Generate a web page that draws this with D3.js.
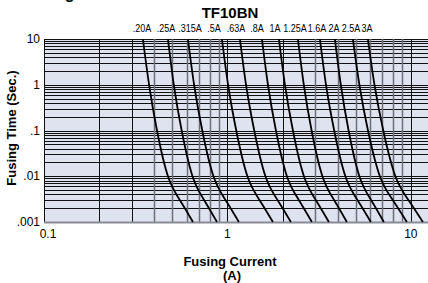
<!DOCTYPE html>
<html>
<head>
<meta charset="utf-8">
<script src="https://cdn.jsdelivr.net/npm/d3@7"></script>
<style>
  html, body { margin: 0; padding: 0; background: #fff; }
  svg { display: block; font-family: "Liberation Sans", Arial, sans-serif; }
</style>
</head>
<body>
<svg id="chart" width="428" height="283"></svg>
<script>
// fuse ratings shown along the top
var ratings = ['.20A', '.25A', '.315A', '.5A', '.63A', '.8A', '1A', '1.25A', '1.6A', '2A', '2.5A', '3A'];

// fusing time (sec) where each curve was read
var times = [10, 1, 0.1, 0.01, 0.003, 0.001];

// fusing current (A) at those times, one row per rating
var currents = [
  [0.346, 0.374, 0.413, 0.474, 0.551, 0.649],
  [0.474, 0.510, 0.563, 0.645, 0.747, 0.877],
  [0.609, 0.658, 0.729, 0.839, 0.978, 1.155],
  [0.933, 1.008, 1.117, 1.285, 1.498, 1.770],
  [1.170, 1.263, 1.400, 1.611, 1.878, 2.218],
  [1.542, 1.663, 1.838, 2.110, 2.453, 2.887],
  [1.909, 2.058, 2.275, 2.612, 3.036, 3.573],
  [2.422, 2.608, 2.876, 3.294, 3.819, 4.479],
  [3.193, 3.446, 3.819, 4.395, 5.123, 6.053],
  [3.853, 4.150, 4.576, 5.240, 6.076, 7.127],
  [4.830, 5.240, 5.837, 6.778, 7.978, 9.511],
  [5.830, 6.333, 7.073, 8.233, 9.716, 11.63]
];

// x position of each rating label (A)
var labelAt = [0.342, 0.462, 0.625, 0.844, 1.112, 1.448, 1.815, 2.333, 3.075, 3.806, 4.710, 5.757];

var yTicks = [10, 1, 0.1, 0.01, 0.001];
var yTickText = ['10', '1', '.1', '.01', '.001'];
var xTicks = [0.1, 1, 10];
var xTickText = ['0.1', '1', '10'];

var svg = d3.select('#chart');
var plotL = 44, plotR = 428, plotT = 39, plotB = 222;

var x = d3.scaleLog().domain([0.1, 12.4]).range([plotL, plotR]);
var y = d3.scaleLog().domain([0.001, 10]).range([plotB, plotT]);

// plot background
svg.append('rect')
  .attr('x', plotL).attr('y', plotT)
  .attr('width', plotR - plotL).attr('height', plotB - plotT)
  .attr('fill', '#dfe2ef');

// log grid values
var xGrid = [], yGrid = [];
[0.1, 1, 10].forEach(function(d) {
  for (var i = 1; i <= 9; i++) {
    if (d * i <= 12.4) xGrid.push({v: d * i, m: i});
  }
});
[0.001, 0.01, 0.1, 1].forEach(function(d) {
  for (var i = 1; i <= 10; i++) yGrid.push({v: d * i, m: i});
});

// dark vertical lines: 0.1, 0.2, 0.3, 1, 2 - the rest are grey
function darkV(d) {
  return d.m <= 2 || (d.v < 1 && d.m === 3);
}

var grid = svg.append('g');
grid.selectAll('line.h').data(yGrid).enter().append('line')
  .attr('class', 'h')
  .attr('x1', plotL).attr('x2', plotR)
  .attr('y1', function(d) { return Math.round(y(d.v)) + 0.5; })
  .attr('y2', function(d) { return Math.round(y(d.v)) + 0.5; })
  .attr('stroke', '#111').attr('stroke-width', 1);

grid.selectAll('line.v').data(xGrid).enter().append('line')
  .attr('class', 'v')
  .attr('x1', function(d) { return Math.round(x(d.v)) + 0.5; })
  .attr('x2', function(d) { return Math.round(x(d.v)) + 0.5; })
  .attr('y1', plotT).attr('y2', plotB)
  .attr('stroke', function(d) { return darkV(d) ? '#111' : '#6d6f78'; })
  .attr('stroke-width', function(d) { return darkV(d) ? 1 : 1.5; });

// bottom edge
svg.append('line')
  .attr('x1', plotL).attr('x2', plotR)
  .attr('y1', plotB + 0.5).attr('y2', plotB + 0.5)
  .attr('stroke', '#8a8c95').attr('stroke-width', 2);

// fusing curves
var line = d3.line()
  .x(function(d) { return x(d[0]); })
  .y(function(d) { return y(d[1]); })
  .curve(d3.curveNatural);

svg.append('g').selectAll('path').data(currents).enter().append('path')
  .attr('d', function(row) {
    return line(row.map(function(c, i) { return [c, times[i]]; }));
  })
  .attr('fill', 'none')
  .attr('stroke', '#000')
  .attr('stroke-width', 1.8);

// rating labels, squeezed like the narrow face in the original
svg.append('g').selectAll('text').data(ratings).enter().append('text')
  .attr('transform', function(d, i) { return 'translate(' + x(labelAt[i]) + ',32) scale(0.9,1)'; })
  .attr('text-anchor', 'middle')
  .attr('font-size', 10)
  .text(function(d) { return d; });

// y tick labels
svg.append('g').selectAll('text').data(yTicks).enter().append('text')
  .attr('x', 40)
  .attr('y', function(d) { return y(d) + 4; })
  .attr('text-anchor', 'end')
  .attr('font-size', 12)
  .text(function(d, i) { return yTickText[i]; });

// x tick labels
svg.append('g').selectAll('text').data(xTicks).enter().append('text')
  .attr('x', function(d) { return x(d) + (d === 0.1 ? 4 : 0); })
  .attr('y', 238)
  .attr('text-anchor', 'middle')
  .attr('font-size', 12)
  .text(function(d, i) { return xTickText[i]; });

// titles
svg.append('text')
  .attr('x', 230).attr('y', 18)
  .attr('text-anchor', 'middle')
  .attr('font-size', 15).attr('font-weight', 'bold')
  .text('TF10BN');

svg.append('text')
  .attr('x', 22).attr('y', -1)
  .attr('font-size', 16).attr('font-weight', 'bold')
  .text('Fusing Characteristics');

svg.append('text')
  .attr('transform', 'translate(16,128) rotate(-90)')
  .attr('text-anchor', 'middle')
  .attr('font-size', 13).attr('font-weight', 'bold')
  .text('Fusing Time (Sec.)');

svg.append('text')
  .attr('x', 230).attr('y', 266)
  .attr('text-anchor', 'middle')
  .attr('font-size', 13).attr('font-weight', 'bold')
  .text('Fusing Current');

svg.append('text')
  .attr('x', 232).attr('y', 280)
  .attr('text-anchor', 'middle')
  .attr('font-size', 13).attr('font-weight', 'bold')
  .text('(A)');
</script>
</body>
</html>
